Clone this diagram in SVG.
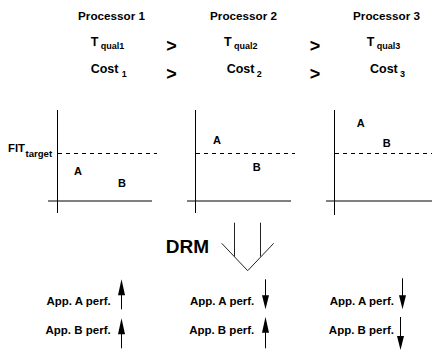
<svg xmlns="http://www.w3.org/2000/svg" width="432" height="351" viewBox="0 0 432 351">
  <style>
    text { font-family: "Liberation Sans", Arial, Helvetica, sans-serif; font-weight: bold; fill: #000; }
    .head { font-size: 11.7px; text-anchor: middle; }
    .big { font-size: 12.5px; }
    .sub { font-size: 9px; }
    .gt { font-size: 18px; text-anchor: middle; }
    .pt { font-size: 11px; }
    .perf { font-size: 11.5px; }
    .axis-y { stroke: #000; stroke-width: 1; fill: none; }
    .axis-x { stroke: #000; stroke-width: 1; fill: none; }
    .target { stroke: #000; stroke-width: 1; stroke-dasharray: 4 4; fill: none; }
    .shaft { stroke: #000; stroke-width: 1; fill: none; }
    .drm { stroke: #222; stroke-width: 1; fill: none; }
  </style>
  <defs>
    <!-- arrowhead pointing up, tip at origin -->
    <polygon id="head-up" points="0,0 3.5,16 -3.5,16" fill="#000"/>
    <!-- arrowhead pointing down, tip at origin -->
    <polygon id="head-down" points="0,0 3.5,-14 -3.5,-14" fill="#000"/>
  </defs>

  <!-- processor headers -->
  <g id="processor-1">
    <text class="head" x="111.5" y="19.5">Processor 1</text>
    <text class="big" x="90.7" y="45.5">T</text>
    <text class="sub" x="100.7" y="49">qual1</text>
    <text class="big" x="90.7" y="73">Cost</text>
    <text class="sub" x="121.7" y="77">1</text>
  </g>
  <g id="processor-2">
    <text class="head" x="243.5" y="19.5">Processor 2</text>
    <text class="big" x="224" y="45.5">T</text>
    <text class="sub" x="234" y="49">qual2</text>
    <text class="big" x="226.7" y="73">Cost</text>
    <text class="sub" x="256.7" y="77">2</text>
  </g>
  <g id="processor-3">
    <text class="head" x="386.5" y="19.5">Processor 3</text>
    <text class="big" x="366.7" y="45.5">T</text>
    <text class="sub" x="376.7" y="49">qual3</text>
    <text class="big" x="370" y="73">Cost</text>
    <text class="sub" x="400" y="77">3</text>
  </g>
  <g id="comparisons">
    <text class="gt" x="171.5" y="52">&gt;</text>
    <text class="gt" x="315" y="52">&gt;</text>
    <text class="gt" x="171.5" y="79.5">&gt;</text>
    <text class="gt" x="315" y="79.5">&gt;</text>
  </g>

  <!-- FIT plots -->
  <g id="plot-1">
    <line class="axis-y" x1="57.5" y1="110" x2="57.5" y2="213"/>
    <line class="axis-x" x1="48" y1="201" x2="152" y2="201"/>
    <line class="target" x1="58" y1="153.5" x2="157" y2="153.5"/>
    <text x="8" y="152" font-size="11.3px">FIT</text>
    <text x="25.5" y="156.5" font-size="9.6px">target</text>
    <text class="pt" x="74" y="175">A</text>
    <text class="pt" x="118" y="187.3">B</text>
  </g>
  <g id="plot-2">
    <line class="axis-y" x1="195.5" y1="110" x2="195.5" y2="213"/>
    <line class="axis-x" x1="187" y1="201" x2="291" y2="201"/>
    <line class="target" x1="196" y1="153.5" x2="295" y2="153.5"/>
    <text class="pt" x="213" y="144">A</text>
    <text class="pt" x="252.7" y="171">B</text>
  </g>
  <g id="plot-3">
    <line class="axis-y" x1="334.5" y1="110" x2="334.5" y2="215"/>
    <line class="axis-x" x1="326" y1="201" x2="432" y2="201"/>
    <line class="target" x1="335" y1="153.5" x2="432" y2="153.5"/>
    <text class="pt" x="356.7" y="126.7">A</text>
    <text class="pt" x="382.7" y="147">B</text>
  </g>

  <!-- DRM step -->
  <g id="drm">
    <text x="165.7" y="253.3" font-size="19px">DRM</text>
  </g>
  <g id="connectors">
    <path class="drm" d="M234.5,222.7 V256.6 M260.5,222.7 V256.6 M221.7,243.3 L247.7,270.7 L273.7,243.3"/>
  </g>

  <!-- resulting application performance -->
  <g id="perf-1">
    <text class="perf" x="110.7" y="305" text-anchor="end">App. A perf.</text>
    <line class="shaft" x1="121.5" y1="293" x2="121.5" y2="309.3"/>
    <use href="#head-up" x="121.5" y="279.3"/>
    <text class="perf" x="110.7" y="334" text-anchor="end">App. B perf.</text>
    <line class="shaft" x1="121.5" y1="332" x2="121.5" y2="348.3"/>
    <use href="#head-up" x="121.5" y="318.3"/>
  </g>
  <g id="perf-2">
    <text class="perf" x="254.3" y="305" text-anchor="end">App. A perf.</text>
    <line class="shaft" x1="265.5" y1="279.3" x2="265.5" y2="297"/>
    <use href="#head-down" x="265.5" y="309.3"/>
    <text class="perf" x="254.3" y="334" text-anchor="end">App. B perf.</text>
    <line class="shaft" x1="265.5" y1="330" x2="265.5" y2="348.3"/>
    <use href="#head-up" x="265.5" y="316.7"/>
  </g>
  <g id="perf-3">
    <text class="perf" x="394" y="305" text-anchor="end">App. A perf.</text>
    <line class="shaft" x1="402.5" y1="278.3" x2="402.5" y2="297"/>
    <use href="#head-down" x="402.5" y="309.3"/>
    <text class="perf" x="394" y="334" text-anchor="end">App. B perf.</text>
    <line class="shaft" x1="400.5" y1="317" x2="400.5" y2="338"/>
    <use href="#head-down" x="400.5" y="350"/>
  </g>
</svg>
